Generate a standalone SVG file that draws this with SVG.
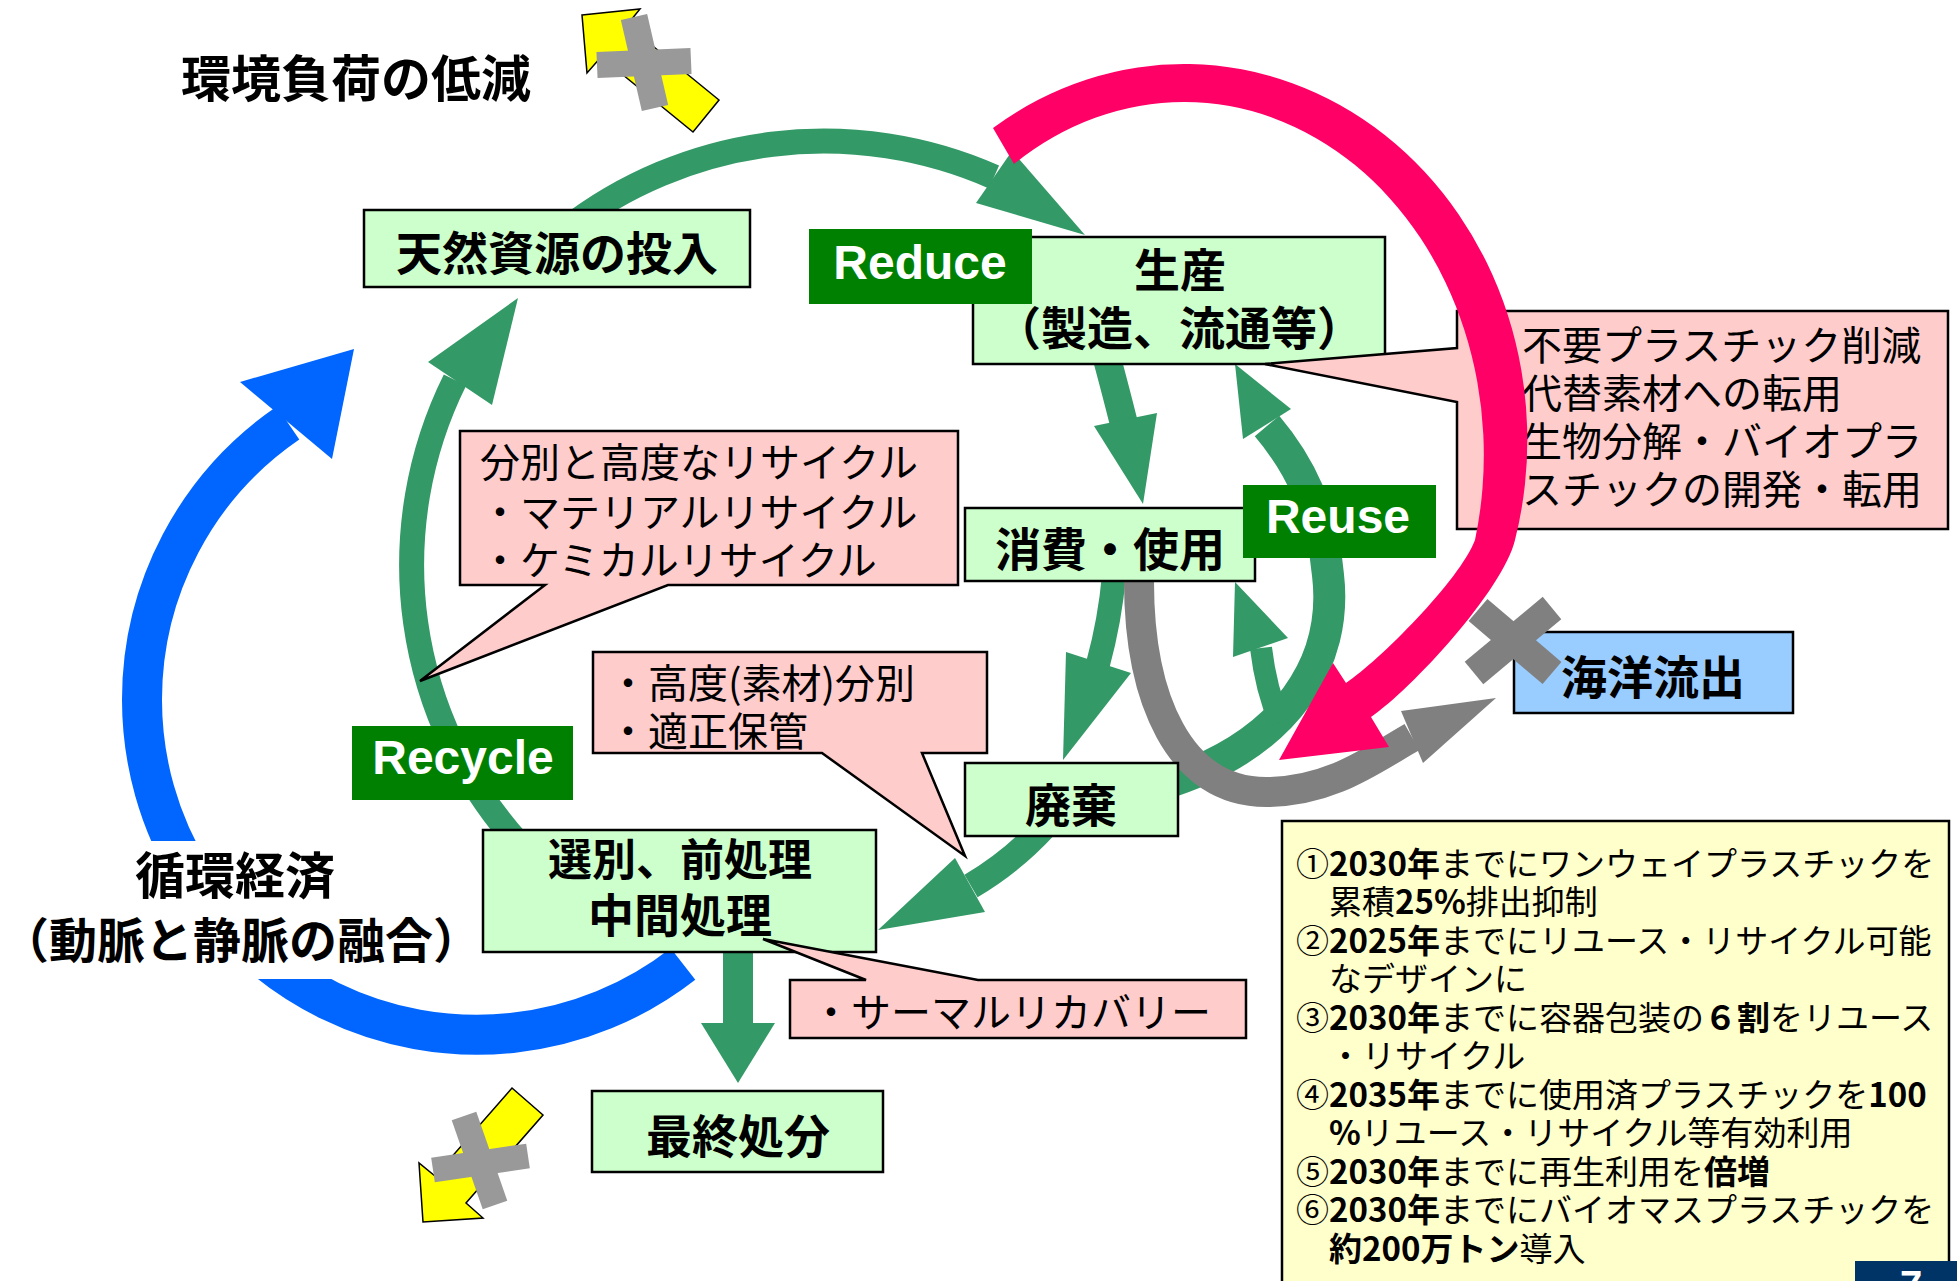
<svg xmlns="http://www.w3.org/2000/svg" width="1957" height="1281" viewBox="0 0 1957 1281">
<defs>
<style>
.nb{fill:#CCFFCC;stroke:#000;stroke-width:2.5}
.nt{font-family:'Noto Sans CJK JP','Noto Sans',sans-serif;font-weight:700;font-size:46px;text-anchor:middle;dominant-baseline:central;fill:#000}
.big{font-family:'Noto Sans CJK JP','Noto Sans',sans-serif;font-weight:700;font-size:50px;text-anchor:middle;dominant-baseline:central;fill:#000}
.co{fill:#FFCCCC;stroke:#000;stroke-width:2.5;stroke-linejoin:miter}
.ct{font-family:'Noto Sans CJK JP','Noto Sans',sans-serif;font-size:40px;dominant-baseline:central;fill:#000}
.lb{fill:#008000}
.lt{font-family:'Liberation Sans',Arial,sans-serif;font-weight:700;font-size:48px;fill:#fff;text-anchor:middle}
.gs{fill:none;stroke:#339966}
.gf{fill:#339966}
.nn{font-family:'Noto Sans CJK JP','Noto Sans',sans-serif;font-size:33px;dominant-baseline:central;fill:#000}
.b{font-weight:700}
.yl{fill:#FFFF00;stroke:#000;stroke-width:1.5;stroke-linejoin:miter}
.cr{stroke:#999999;fill:none}
</style>
</defs>
<rect x="0" y="0" width="1957" height="1281" fill="#fff"/>

<g id="title">
<text class="big" x="356" y="75">環境負荷の低減</text>
</g>

<g id="connectors">
<g id="blue-arrow">
<path d="M 683,964 A 335,335 0 0 1 142,700 A 335,335 0 0 1 288,423" fill="none" stroke="#0066FF" stroke-width="40"/>
<polygon points="240,382 354,349 332,459" fill="#0066FF"/>
</g>
<path class="gs" stroke-width="25" d="M 565,230 A 421,421 0 0 1 994,177"/>
<polygon class="gf" points="976,203 1085,235 1012,151"/>
<path class="gs" stroke-width="25" d="M 520,845 A 416,416 0 0 1 455,380"/>
<polygon class="gf" points="428,362 518,298 492,405"/>
<path class="gs" stroke-width="28" d="M 1106,355 Q 1116,392 1124,424"/>
<polygon class="gf" points="1094,426 1143,504 1157,413"/>
<path class="gs" stroke-width="24" d="M 1114,575 Q 1110,620 1098,664"/>
<polygon class="gf" points="1066,652 1063,760 1131,673"/>
<path class="gs" stroke-width="26" d="M 1045,826 Q 1012,862 971,886"/>
<polygon class="gf" points="955,858 878,930 985,912"/>
<path class="gs" stroke-width="32" d="M 1160,785 C 1290,745 1338,660 1328,575 C 1322,510 1300,465 1267,426"/>
<polygon class="gf" points="1243,439 1235,364 1291,409"/>
<path class="gs" stroke-width="22" d="M 1280,722 Q 1266,690 1261,648"/>
<polygon class="gf" points="1233,657 1235,582 1288,638"/>
<path class="gs" stroke-width="30" d="M 738,945 V 1026"/>
<polygon class="gf" points="701,1023 738,1083 775,1023"/>
<path d="M 1139,576 C 1138,700 1180,792 1266,792 C 1330,792 1372,760 1412,737" fill="none" stroke="#808080" stroke-width="30"/>
<polygon points="1401,711 1496,698 1423,763" fill="#808080"/>
</g>

<rect id="text-mask" x="0" y="841" width="462" height="138" fill="#fff"/>
<g id="circular-economy">
<text class="big" x="235" y="872">循環経済</text>
<text class="big" x="241" y="937" style="font-size:48px">（動脈と静脈の融合）</text>
</g>

<g id="node-natural">
<rect class="nb" x="364" y="210" width="386" height="77"/>
<text class="nt" x="557" y="250">天然資源の投入</text>
</g>
<g id="node-production">
<rect class="nb" x="973" y="237" width="412" height="127"/>
<text class="nt" x="1180" y="267">生産</text>
<text class="nt" x="1179" y="325">（製造、流通等）</text>
</g>
<g id="node-consumption">
<rect class="nb" x="965" y="508" width="290" height="73"/>
<text class="nt" x="1110" y="546">消費・使用</text>
</g>
<g id="node-disposal">
<rect class="nb" x="965" y="763" width="213" height="73"/>
<text class="nt" x="1071" y="802">廃棄</text>
</g>
<g id="node-sorting">
<rect class="nb" x="483" y="830" width="393" height="122"/>
<text class="nt" x="680" y="857" style="font-size:44px">選別、前処理</text>
<text class="nt" x="680" y="912">中間処理</text>
</g>
<g id="node-final">
<rect class="nb" x="592" y="1091" width="291" height="81"/>
<text class="nt" x="738" y="1133">最終処分</text>
</g>
<g id="node-ocean">
<rect x="1514" y="632" width="279" height="81" fill="#99CCFF" stroke="#000" stroke-width="2.5"/>
<text class="nt" x="1653" y="674">海洋流出</text>
</g>

<g id="callout-recycle">
<path class="co" d="M 460,431 H 958 V 585 H 668 L 420,681 L 545,585 H 460 Z"/>
<text class="ct" x="480" y="460">分別と高度なリサイクル</text>
<text class="ct" x="480" y="510">・マテリアルリサイクル</text>
<text class="ct" x="480" y="558">・ケミカルリサイクル</text>
</g>
<g id="callout-sorting">
<path class="co" d="M 593,652 H 987 V 753 H 922 L 965,856 L 822,753 H 593 Z"/>
<text class="ct" x="608" y="681">・高度(素材)分別</text>
<text class="ct" x="608" y="729">・適正保管</text>
</g>
<g id="callout-thermal">
<path class="co" d="M 790,980 H 866 L 763,939 L 978,980 H 1246 V 1038 H 790 Z"/>
<text class="ct" x="811" y="1010">・サーマルリカバリー</text>
</g>
<g id="callout-reduce">
<path class="co" d="M 1457,311 H 1948 V 529 H 1457 V 402 L 1265,364 L 1457,348 Z"/>
<text class="ct" x="1522" y="343">不要プラスチック削減</text>
<text class="ct" x="1522" y="391">代替素材への転用</text>
<text class="ct" x="1522" y="439">生物分解・バイオプラ</text>
<text class="ct" x="1522" y="487">スチックの開発・転用</text>
</g>

<g id="reduce-arrow">
<path fill="#FF0066" d="M 993,128 A 343,376 0 0 1 1515,540 C 1503,590 1412,689 1371,717 L 1389,747 L 1279,760 L 1333,663 L 1346,683 C 1379,661 1460,580 1475,540 A 300,353 0 0 0 1014,164 Z"/>
</g>

<g id="label-reduce">
<rect class="lb" x="809" y="229" width="223" height="75"/>
<text class="lt" x="920" y="279">Reduce</text>
</g>
<g id="label-reuse">
<rect class="lb" x="1243" y="485" width="193" height="73"/>
<text class="lt" x="1338" y="533">Reuse</text>
</g>
<g id="label-recycle">
<rect class="lb" x="352" y="726" width="221" height="74"/>
<text class="lt" x="463" y="774">Recycle</text>
</g>

<g id="ocean-cross">
<line x1="1478" y1="610" x2="1552" y2="673" stroke="#808080" stroke-width="29"/>
<line x1="1552" y1="608" x2="1474" y2="673" stroke="#808080" stroke-width="29"/>
</g>

<g id="yellow-top">
<polygon class="yl" points="582,15 640,9 627,25 719,100 693,132 601,57 587,73"/>
<line class="cr" x1="634" y1="17" x2="655" y2="108" stroke-width="27"/>
<line class="cr" x1="597" y1="65" x2="691" y2="61" stroke-width="26"/>
</g>
<g id="yellow-bottom">
<polygon class="yl" points="512,1088 543,1115 466,1203 483,1218 423,1222 419,1163 435,1176"/>
<line class="cr" x1="464" y1="1116" x2="495" y2="1205" stroke-width="26"/>
<line class="cr" x1="433" y1="1170" x2="528" y2="1156" stroke-width="25"/>
</g>

<g id="targets-note">
<rect x="1282" y="821" width="667" height="480" fill="#FFFFCC" stroke="#000" stroke-width="2.5"/>
<text class="nn" x="1296" y="862">①<tspan class="b">2030年</tspan>までにワンウェイプラスチックを</text>
<text class="nn" x="1329" y="900">累積<tspan class="b">25%</tspan>排出抑制</text>
<text class="nn" x="1296" y="939">②<tspan class="b">2025年</tspan>までにリユース・リサイクル可能</text>
<text class="nn" x="1329" y="977">なデザインに</text>
<text class="nn" x="1296" y="1016">③<tspan class="b">2030年</tspan>までに容器包装の<tspan class="b">６割</tspan>をリユース</text>
<text class="nn" x="1329" y="1054">・リサイクル</text>
<text class="nn" x="1296" y="1093">④<tspan class="b">2035年</tspan>までに使用済プラスチックを<tspan class="b">100</tspan></text>
<text class="nn" x="1329" y="1131"><tspan class="b">%</tspan>リユース・リサイクル等有効利用</text>
<text class="nn" x="1296" y="1170">⑤<tspan class="b">2030年</tspan>までに再生利用を<tspan class="b">倍増</tspan></text>
<text class="nn" x="1296" y="1208">⑥<tspan class="b">2030年</tspan>までにバイオマスプラスチックを</text>
<text class="nn" x="1329" y="1247"><tspan class="b">約200万トン</tspan>導入</text>
</g>

<g id="page-number">
<rect x="1855" y="1261" width="102" height="25" fill="#003366"/>
<text x="1911" y="1299" font-family="'Liberation Sans',Arial,sans-serif" font-weight="700" font-size="40" fill="#fff" text-anchor="middle">7</text>
</g>
</svg>
